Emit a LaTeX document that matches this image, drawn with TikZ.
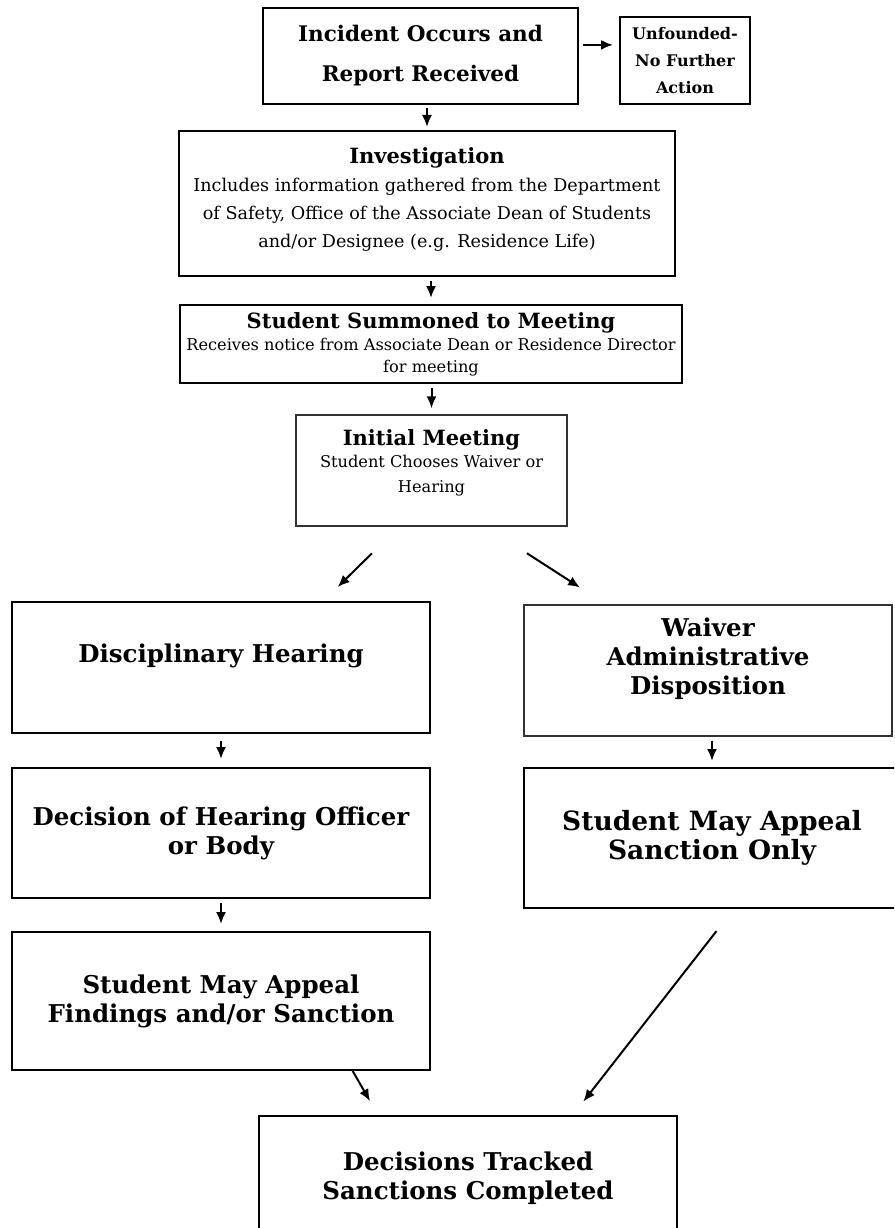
\documentclass[tikz,border=0pt]{standalone}
\usepackage{fontspec}
\setmainfont{DejaVu Serif}
\usetikzlibrary{arrows.meta}
\usetikzlibrary{positioning}
\tikzstyle{every node}+=[inner sep=0pt]
\tikzstyle{block} = [rectangle, draw, line width=2pt, text centered, align=center]
\tikzstyle{lightbox} = [line width=1.3pt, draw=black!80]
\tikzstyle{line} = [draw, line width=2pt, -{Latex[length=12pt,width=10pt]}, shorten <=4pt, shorten >=6pt]
\newcommand{\ttlfont}{\bfseries\fontsize{21.5}{40}\selectfont}
\newcommand{\hdfont}{\bfseries\fontsize{24.5}{29}\selectfont}
\newcommand{\rtfont}{\bfseries\fontsize{26.5}{29}\selectfont}
\newcommand{\subfont}{\bfseries\fontsize{21}{29}\selectfont}
\newcommand{\smfont}{\bfseries\fontsize{16}{27}\selectfont}
\newcommand{\txfont}{\fontsize{17.6}{28}\selectfont}
\newcommand{\sttfont}{\fontsize{16.2}{22}\selectfont}
\begin{document}
\begin{tikzpicture}[x=1pt, y=1pt]
            \useasboundingbox (0,0) rectangle (894,-1228);
            \clip (0,0) rectangle (894,-1228);
            \fill [white] (0,0) rectangle (894,-1228);
            % Place nodes
            \node [block, minimum width=315pt, minimum height=96pt, font=\ttlfont] (inc) at (420.5,-56) {Incident Occurs and\\Report Received};
            \node [block, right of=inc, node distance=264.5pt, yshift=-4.5pt, minimum width=130pt, minimum height=87pt, font=\smfont] (unf) {Unfounded-\\No Further\\Action};
            \node [block, below of=inc, node distance=147.5pt, xshift=6.5pt, minimum width=496pt, minimum height=145pt, font=\txfont] (inv) {{\subfont Investigation}\\Includes information gathered from the Department\\of Safety, Office of the Associate Dean of Students\\and/or Designee (e.g. Residence Life)\\[-17pt]\mbox{}};
            \node [block, below of=inv, node distance=140.5pt, xshift=4pt, minimum width=502pt, minimum height=78pt, font=\sttfont] (sum) {{\subfont Student Summoned to Meeting}\\Receives notice from Associate Dean or Residence Director\\for meeting};
            \node [block, lightbox, below of=sum, node distance=126.5pt, xshift=0.5pt, minimum width=271pt, minimum height=111pt, font=\sttfont, text depth=0pt] (init) {{\subfont Initial Meeting}\\Student Chooses Waiver or\\[3pt]Hearing\\[-4pt]\mbox{}};
            \node [block, below of=init, node distance=197pt, xshift=-210.5pt, minimum width=418pt, minimum height=131pt, font=\hdfont] (disc) {Disciplinary Hearing\\\mbox{}};
            \node [block, lightbox, below of=init, node distance=200pt, xshift=276.5pt, minimum width=368pt, minimum height=131pt, font=\hdfont] (waiv) {Waiver\\Administrative\\Disposition\\\mbox{}};
            \node [block, below of=disc, node distance=165.5pt, minimum width=418pt, minimum height=130pt, font=\hdfont] (dec) {Decision of Hearing Officer\\or Body};
            \node [block, below of=waiv, node distance=167.5pt, xshift=4pt, minimum width=376pt, minimum height=140pt, font=\rtfont] (sanc) {Student May Appeal\\Sanction Only};
            \node [block, below of=dec, node distance=168pt, minimum width=418pt, minimum height=138pt, font=\hdfont] (find) {Student May Appeal\\Findings and/or Sanction};
            \node [block, below of=find, node distance=177pt, xshift=247pt, minimum width=418pt, minimum height=124pt, font=\hdfont] (done) {Decisions Tracked\\Sanctions Completed};
            % Draw edges
            \path [line] (inc.4) -- (inc.4 -| unf.west);
            \path [line, shorten <=3pt, shorten >=3pt] (inv.north |- inc.south) -- (inv.north);
            \path [line] (sum.north |- inv.south) -- (sum.north);
            \path [line] (init.north |- sum.south) -- (init.north);
            \path [line, shorten <=38pt, shorten >=20pt] (init.240) -- (disc.33);
            \path [line, shorten <=49pt, shorten >=31pt] (init.-46.6) -- (waiv.147.8);
            \path [line, shorten <=7pt, shorten >=8pt] (disc) -- (dec);
            \path [line] (sanc.north |- waiv.south) -- (sanc.north);
            \path [line, shorten >=7pt] (dec) -- (find);
            \path [line, shorten <=0pt, shorten >=16pt] (find.-28.7) -- (done.145.1);
            \path [line, shorten <=28pt, shorten >=17pt] (sanc.-73.7) -- (done.31.9);
\end{tikzpicture}
\end{document}
